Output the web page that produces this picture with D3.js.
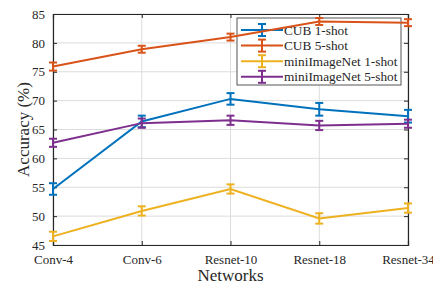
<!DOCTYPE html>
<html>
<head>
<meta charset="utf-8">
<script src="https://cdn.jsdelivr.net/npm/d3@7"></script>
<style>
  body { margin: 0; background: #fff; }
  svg { font-family: "Liberation Serif", "DejaVu Serif", serif; }
</style>
</head>
<body>
<svg id="chart" width="433" height="286"></svg>
<script>
// data
const networks = ["Conv-4", "Conv-6", "Resnet-10", "Resnet-18", "Resnet-34"];
const seriesNames = ["CUB 1-shot", "CUB 5-shot", "miniImageNet 1-shot", "miniImageNet 5-shot"];
const cub1 = [54.7, 66.4, 70.3, 68.5, 67.3];
const cub1Err = [1.0, 1.0, 1.0, 1.1, 1.1];
const cub5 = [75.9, 78.9, 81.0, 83.7, 83.5];
const cub5Err = [0.7, 0.6, 0.6, 0.6, 0.6];
const mini1 = [46.5, 50.9, 54.7, 49.6, 51.4];
const mini1Err = [0.8, 0.8, 0.8, 0.9, 0.8];
const mini5 = [62.7, 66.1, 66.6, 65.7, 66.0];
const mini5Err = [0.7, 0.8, 0.8, 0.8, 0.7];
const yTicks = [45, 50, 55, 60, 65, 70, 75, 80, 85];
const colors = ["#0072BD", "#D95319", "#EDB120", "#7E2F8E"];

const series = [
  { name: seriesNames[0], values: cub1, err: cub1Err },
  { name: seriesNames[1], values: cub5, err: cub5Err },
  { name: seriesNames[2], values: mini1, err: mini1Err },
  { name: seriesNames[3], values: mini5, err: mini5Err }
];

const margin = { left: 53, right: 25, top: 14, bottom: 41 };
const W = 433, H = 286;
const svg = d3.select("#chart");
const g = svg.append("g").attr("transform", `translate(${margin.left},${margin.top})`);
const iw = W - margin.left - margin.right;
const ih = H - margin.top - margin.bottom;

const x = d3.scalePoint().domain(networks).range([0, iw]).padding(0);
const y = d3.scaleLinear().domain([45, 85]).range([ih, 0]);

// grid
g.append("g").selectAll("line").data(yTicks).enter().append("line")
  .attr("x1", 0).attr("x2", iw)
  .attr("y1", d => y(d)).attr("y2", d => y(d))
  .attr("stroke", "#dcdcdc").attr("stroke-width", 1);
g.append("g").selectAll("line").data(networks).enter().append("line")
  .attr("x1", d => x(d)).attr("x2", d => x(d))
  .attr("y1", 0).attr("y2", ih)
  .attr("stroke", "#dcdcdc").attr("stroke-width", 1);

// legend box sits under the data lines (the orange line crosses it in the original)
const lg = svg.append("g").attr("transform", "translate(237,18)");
lg.append("rect").attr("width", 164).attr("height", 67)
  .attr("fill", "#fff").attr("stroke", "#555").attr("stroke-width", 1);

// axes (ticks inward, mirrored like a matlab box)
const tickCol = "#262626";
const yAxis = g.append("g").call(d3.axisLeft(y).tickValues(yTicks).tickSize(-4).tickPadding(8));
const xAxis = g.append("g").attr("transform", `translate(0,${ih})`)
  .call(d3.axisBottom(x).tickSize(-4).tickPadding(10));
g.append("g").attr("transform", `translate(${iw},0)`)
  .call(d3.axisRight(y).tickValues(yTicks).tickSize(-4).tickFormat(""));
g.append("g").call(d3.axisTop(x).tickSize(-4).tickFormat(""));
g.selectAll(".domain").attr("stroke", tickCol).attr("stroke-width", 1.2);
g.selectAll(".tick line").attr("stroke", tickCol);
g.selectAll(".tick text").attr("font-size", 13).attr("fill", tickCol).attr("font-family", "Liberation Serif");

// legend entries
series.forEach((s, k) => {
  const ry = 12 + k * 15.6;
  lg.append("line").attr("x1", 4).attr("x2", 46).attr("y1", ry).attr("y2", ry)
    .attr("stroke", colors[k]).attr("stroke-width", 2);
  lg.append("line").attr("x1", 25).attr("x2", 25).attr("y1", ry - 6).attr("y2", ry + 6)
    .attr("stroke", colors[k]).attr("stroke-width", 2);
  [-6, 6].forEach(dy => lg.append("line").attr("x1", 21).attr("x2", 29)
    .attr("y1", ry + dy).attr("y2", ry + dy).attr("stroke", colors[k]).attr("stroke-width", 2));
  lg.append("text").attr("x", 47).attr("y", ry + 4.5).attr("font-size", 13.3)
    .attr("fill", tickCol).text(s.name);
});

// lines + error bars
const line = d3.line().x((d, i) => x(networks[i])).y(d => y(d));
const dataLayer = svg.append("g").attr("transform", `translate(${margin.left},${margin.top})`);
series.forEach((s, k) => {
  const sg = dataLayer.append("g");
  sg.append("path").datum(s.values).attr("d", line)
    .attr("fill", "none").attr("stroke", colors[k]).attr("stroke-width", 2);
  const eb = sg.selectAll(".eb").data(s.values).enter().append("g");
  eb.append("line")
    .attr("x1", (d, i) => x(networks[i])).attr("x2", (d, i) => x(networks[i]))
    .attr("y1", (d, i) => y(d - s.err[i])).attr("y2", (d, i) => y(d + s.err[i]))
    .attr("stroke", colors[k]).attr("stroke-width", 2);
  [-1, 1].forEach(sgn => {
    eb.append("line")
      .attr("x1", (d, i) => x(networks[i]) - 4).attr("x2", (d, i) => x(networks[i]) + 4)
      .attr("y1", (d, i) => y(d + sgn * s.err[i])).attr("y2", (d, i) => y(d + sgn * s.err[i]))
      .attr("stroke", colors[k]).attr("stroke-width", 2);
  });
});

// axis titles
svg.append("text").attr("x", margin.left + iw / 2).attr("y", 281)
  .attr("text-anchor", "middle").attr("font-size", 17).attr("fill", tickCol).text("Networks");
svg.append("text").attr("transform", `translate(29,${margin.top + ih / 2}) rotate(-90)`)
  .attr("text-anchor", "middle").attr("font-size", 17).attr("fill", tickCol).text("Accuracy (%)");
</script>
</body>
</html>
